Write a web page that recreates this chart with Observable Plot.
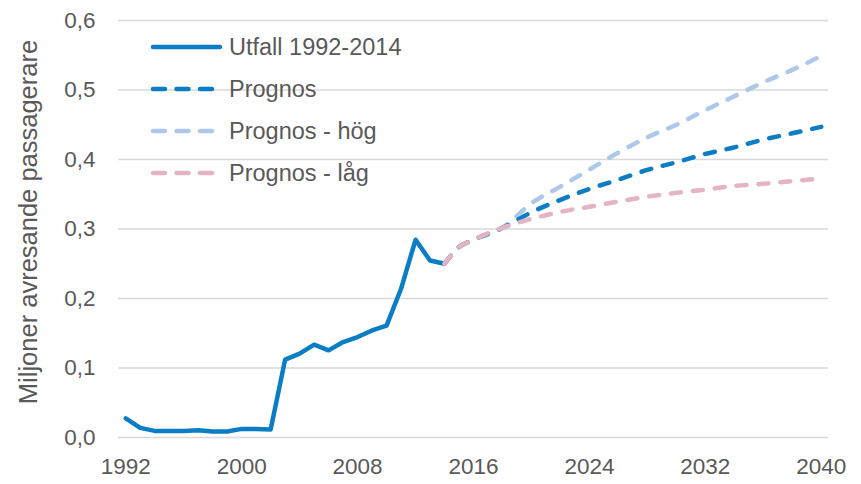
<!DOCTYPE html>
<html>
<head>
<meta charset="utf-8">
<script src="https://cdn.jsdelivr.net/npm/d3@7"></script>
<script src="https://cdn.jsdelivr.net/npm/@observablehq/plot@0.6"></script>
<style>
  html, body { margin: 0; padding: 0; background: #fff; }
  #wrap { position: relative; width: 861px; height: 484px; font-family: "Liberation Sans", Arial, sans-serif; }
  #legend { position: absolute; left: 0; top: 0; pointer-events: none; }
</style>
</head>
<body>
<div id="wrap"></div>
<script>
// ---- data ----
const utfallYears = [1992,1993,1994,1995,1996,1997,1998,1999,2000,2001,2002,2003,2004,2005,2006,2007,2008,2009,2010,2011,2012,2013,2014];
const utfallValues = [0.0275,0.0138,0.0095,0.0095,0.0095,0.0105,0.0086,0.0086,0.0124,0.0124,0.0115,0.112,0.1207,0.1336,0.1254,0.1374,0.1445,0.154,0.161,0.214,0.2845,0.2547,0.250];

const prognosYears = [2014,2015,2016,2018,2020,2022,2024,2026,2028,2030,2032,2034,2036,2038,2040];
const prognosBas  = [0.250,0.274,0.2845,0.3017,0.324,0.342,0.3577,0.371,0.385,0.396,0.408,0.4175,0.4286,0.4377,0.447];
const prognosHog  = [0.250,0.274,0.2845,0.3017,0.337,0.361,0.3855,0.410,0.432,0.450,0.471,0.491,0.511,0.529,0.549];
const prognosLag  = [0.250,0.274,0.2845,0.3017,0.3146,0.3247,0.332,0.3395,0.3467,0.352,0.3567,0.362,0.365,0.369,0.3725];

const xTicks = [1992,2000,2008,2016,2024,2032,2040];
const yTicks = [0,0.1,0.2,0.3,0.4,0.5,0.6];
const yTitle = "Miljoner avresande passagerare";

const seriesNames = ["Utfall 1992-2014","Prognos","Prognos - hög","Prognos - låg"];
const seriesColors = ["#0a7dc4","#0a7dc4","#aec8ea","#e4b3c4"];
const seriesDashed = [false,true,true,true];

// ---- build tables ----
const utfall = utfallYears.map((y,i)=>({year:y, value:utfallValues[i]}));
const bas = prognosYears.map((y,i)=>({year:y, value:prognosBas[i]}));
const hog = prognosYears.map((y,i)=>({year:y, value:prognosHog[i]}));
const lag = prognosYears.map((y,i)=>({year:y, value:prognosLag[i]}));

const fmtY = d => d3.format(".1f")(d).replace(".", ",");
const SW = 4.5;
const dash = "10,12";
const font = "Liberation Sans, Arial, sans-serif";

const chart = Plot.plot({
  width: 861,
  height: 484,
  marginLeft: 118,
  marginRight: 33,
  marginTop: 20,
  marginBottom: 47,
  style: {fontFamily: font, background: "#fff", overflow: "visible"},
  x: {domain: [1991.5, 2040.5]},
  y: {domain: [0, 0.6]},
  marks: [
    Plot.gridY(yTicks, {stroke: "#d9d9d9", strokeOpacity: 1, strokeWidth: 1.5}),
    Plot.axisY(yTicks, {tickFormat: fmtY, tickSize: 0, tickPadding: 23, fontSize: 22.5, fill: "#595959", label: null}),
    Plot.axisX(xTicks, {tickFormat: d => String(d), tickSize: 0, tickPadding: 21, fontSize: 22.5, fill: "#595959", label: null}),
    Plot.text([yTitle], {frameAnchor: "left", textAnchor: "middle", dx: -90, dy: -7, rotate: -90, fontSize: 25.5, fill: "#595959", text: d => d}),
    Plot.line(utfall, {x: "year", y: "value", stroke: seriesColors[0], strokeWidth: SW, strokeLinejoin: "round", strokeLinecap: "round"}),
    Plot.line(hog, {x: "year", y: "value", stroke: seriesColors[2], strokeWidth: SW, strokeDasharray: dash, strokeLinecap: "round", curve: "monotone-x"}),
    Plot.line(bas, {x: "year", y: "value", stroke: seriesColors[1], strokeWidth: SW, strokeDasharray: dash, strokeLinecap: "round", curve: "monotone-x"}),
    Plot.line(lag, {x: "year", y: "value", stroke: seriesColors[3], strokeWidth: SW, strokeDasharray: dash, strokeLinecap: "round", curve: "monotone-x"})
  ]
});

const wrap = document.getElementById("wrap");
wrap.appendChild(chart);

// ---- legend (overlay) ----
const leg = d3.select(wrap).append("svg").attr("id","legend").attr("width",861).attr("height",484);
const rowY = [47, 89, 131, 173];
seriesNames.forEach((name,i)=>{
  const g = leg.append("g").attr("transform", `translate(0,${rowY[i]})`);
  g.append("line").attr("x1",153).attr("x2", seriesDashed[i] ? 214 : 220).attr("y1",0).attr("y2",0)
    .attr("stroke", seriesColors[i]).attr("stroke-width", SW).attr("stroke-linecap","round")
    .attr("stroke-dasharray", seriesDashed[i] ? "12,11.5" : null);
  g.append("text").attr("x",229).attr("y",0).attr("dy","0.35em")
    .attr("font-family", font).attr("font-size", 23.5).attr("fill","#595959").text(name);
});
</script>
</body>
</html>
